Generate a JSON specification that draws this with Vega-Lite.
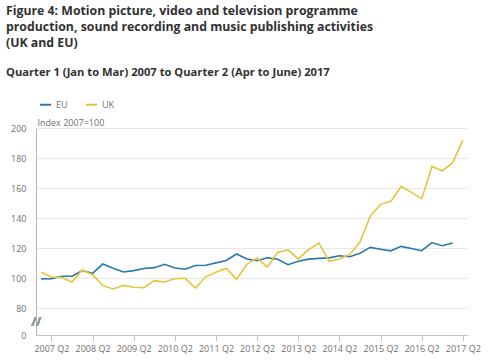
{
  "$schema": "https://vega.github.io/schema/vega-lite/v6.json",
  "width": 432,
  "height": 207,
  "autosize": {"type": "none"},
  "padding": {"left": 36, "top": 128, "right": 32, "bottom": 27},
  "title": {
    "text": ["Figure 4: Motion picture, video and television programme", "production, sound recording and music publishing activities", "(UK and EU)"],
    "subtitle": "Quarter 1 (Jan to Mar) 2007 to Quarter 2 (Apr to June) 2017",
    "anchor": "start",
    "frame": "group",
    "dx": -30,
    "offset": 20,
    "fontSize": 12.3,
    "fontWeight": "bold",
    "lineHeight": 16,
    "color": "#323132",
    "subtitleFontSize": 11.2,
    "subtitleFontWeight": "bold",
    "subtitleColor": "#323132",
    "subtitlePadding": 18
  },
  "data": {
    "values": [
      {"q": "2007 Q1", "series": "EU", "value": 99.4},
      {"q": "2007 Q2", "series": "EU", "value": 99.6},
      {"q": "2007 Q3", "series": "EU", "value": 101.2},
      {"q": "2007 Q4", "series": "EU", "value": 101.2},
      {"q": "2008 Q1", "series": "EU", "value": 105.0},
      {"q": "2008 Q2", "series": "EU", "value": 103.1},
      {"q": "2008 Q3", "series": "EU", "value": 109.3},
      {"q": "2008 Q4", "series": "EU", "value": 106.5},
      {"q": "2009 Q1", "series": "EU", "value": 104.0},
      {"q": "2009 Q2", "series": "EU", "value": 104.9},
      {"q": "2009 Q3", "series": "EU", "value": 106.3},
      {"q": "2009 Q4", "series": "EU", "value": 106.9},
      {"q": "2010 Q1", "series": "EU", "value": 109.1},
      {"q": "2010 Q2", "series": "EU", "value": 106.7},
      {"q": "2010 Q3", "series": "EU", "value": 105.8},
      {"q": "2010 Q4", "series": "EU", "value": 108.3},
      {"q": "2011 Q1", "series": "EU", "value": 108.5},
      {"q": "2011 Q2", "series": "EU", "value": 110.1},
      {"q": "2011 Q3", "series": "EU", "value": 111.7},
      {"q": "2011 Q4", "series": "EU", "value": 116.0},
      {"q": "2012 Q1", "series": "EU", "value": 112.7},
      {"q": "2012 Q2", "series": "EU", "value": 111.5},
      {"q": "2012 Q3", "series": "EU", "value": 113.5},
      {"q": "2012 Q4", "series": "EU", "value": 112.5},
      {"q": "2013 Q1", "series": "EU", "value": 108.9},
      {"q": "2013 Q2", "series": "EU", "value": 111.2},
      {"q": "2013 Q3", "series": "EU", "value": 112.6},
      {"q": "2013 Q4", "series": "EU", "value": 113.1},
      {"q": "2014 Q1", "series": "EU", "value": 113.4},
      {"q": "2014 Q2", "series": "EU", "value": 114.8},
      {"q": "2014 Q3", "series": "EU", "value": 114.2},
      {"q": "2014 Q4", "series": "EU", "value": 116.5},
      {"q": "2015 Q1", "series": "EU", "value": 120.4},
      {"q": "2015 Q2", "series": "EU", "value": 119.2},
      {"q": "2015 Q3", "series": "EU", "value": 118.1},
      {"q": "2015 Q4", "series": "EU", "value": 121.1},
      {"q": "2016 Q1", "series": "EU", "value": 119.7},
      {"q": "2016 Q2", "series": "EU", "value": 118.2},
      {"q": "2016 Q3", "series": "EU", "value": 123.6},
      {"q": "2016 Q4", "series": "EU", "value": 121.5},
      {"q": "2017 Q1", "series": "EU", "value": 123.3},
      {"q": "2007 Q1", "series": "UK", "value": 103.8},
      {"q": "2007 Q2", "series": "UK", "value": 100.7},
      {"q": "2007 Q3", "series": "UK", "value": 100.4},
      {"q": "2007 Q4", "series": "UK", "value": 97.3},
      {"q": "2008 Q1", "series": "UK", "value": 105.3},
      {"q": "2008 Q2", "series": "UK", "value": 102.2},
      {"q": "2008 Q3", "series": "UK", "value": 94.9},
      {"q": "2008 Q4", "series": "UK", "value": 92.7},
      {"q": "2009 Q1", "series": "UK", "value": 95.1},
      {"q": "2009 Q2", "series": "UK", "value": 93.8},
      {"q": "2009 Q3", "series": "UK", "value": 93.6},
      {"q": "2009 Q4", "series": "UK", "value": 98.2},
      {"q": "2010 Q1", "series": "UK", "value": 97.3},
      {"q": "2010 Q2", "series": "UK", "value": 99.5},
      {"q": "2010 Q3", "series": "UK", "value": 99.8},
      {"q": "2010 Q4", "series": "UK", "value": 93.2},
      {"q": "2011 Q1", "series": "UK", "value": 100.8},
      {"q": "2011 Q2", "series": "UK", "value": 103.9},
      {"q": "2011 Q3", "series": "UK", "value": 106.5},
      {"q": "2011 Q4", "series": "UK", "value": 99.1},
      {"q": "2012 Q1", "series": "UK", "value": 109.1},
      {"q": "2012 Q2", "series": "UK", "value": 113.3},
      {"q": "2012 Q3", "series": "UK", "value": 107.3},
      {"q": "2012 Q4", "series": "UK", "value": 117.1},
      {"q": "2013 Q1", "series": "UK", "value": 118.7},
      {"q": "2013 Q2", "series": "UK", "value": 112.7},
      {"q": "2013 Q3", "series": "UK", "value": 118.9},
      {"q": "2013 Q4", "series": "UK", "value": 123.3},
      {"q": "2014 Q1", "series": "UK", "value": 111.1},
      {"q": "2014 Q2", "series": "UK", "value": 112.7},
      {"q": "2014 Q3", "series": "UK", "value": 115.7},
      {"q": "2014 Q4", "series": "UK", "value": 124.0},
      {"q": "2015 Q1", "series": "UK", "value": 141.3},
      {"q": "2015 Q2", "series": "UK", "value": 149.1},
      {"q": "2015 Q3", "series": "UK", "value": 151.1},
      {"q": "2015 Q4", "series": "UK", "value": 161.1},
      {"q": "2016 Q1", "series": "UK", "value": 157.1},
      {"q": "2016 Q2", "series": "UK", "value": 152.9},
      {"q": "2016 Q3", "series": "UK", "value": 174.4},
      {"q": "2016 Q4", "series": "UK", "value": 171.5},
      {"q": "2017 Q1", "series": "UK", "value": 176.7},
      {"q": "2017 Q2", "series": "UK", "value": 191.7}
    ]
  },
  "layer": [
    {
      "mark": {"type": "line", "strokeWidth": 1.6},
      "encoding": {
        "x": {
          "field": "q",
          "type": "ordinal",
          "scale": {"type": "point", "padding": 0.5},
          "axis": {
            "title": null,
            "values": ["2007 Q2", "2008 Q2", "2009 Q2", "2010 Q2", "2011 Q2", "2012 Q2", "2013 Q2", "2014 Q2", "2015 Q2", "2016 Q2", "2017 Q2"],
            "labelAngle": 0,
            "labelFontSize": 9,
            "labelColor": "#707070",
            "labelPadding": 3,
            "labelOverlap": false,
            "tickSize": 6,
            "tickColor": "#c4c4c4",
            "domainColor": "#c4c4c4",
            "grid": false
          }
        },
        "y": {
          "field": "value",
          "type": "quantitative",
          "scale": {"domain": [0, 80, 200], "range": [207, 180, 0], "nice": false, "zero": false},
          "axis": {
            "title": "Index 2007=100",
            "titleAngle": 0,
            "titleAlign": "left",
            "titleBaseline": "alphabetic",
            "titleX": 1,
            "titleY": -3,
            "titleFontSize": 9,
            "titleFontWeight": "normal",
            "titleColor": "#707070",
            "values": [0, 80, 100, 120, 140, 160, 180, 200],
            "tickCount": 20,
            "labelFontSize": 9,
            "labelColor": "#707070",
            "labelPadding": 10,
            "labelOverlap": false,
            "ticks": false,
            "grid": true,
            "gridColor": "#e8e8e8",
            "domainColor": "#b5b5b5"
          }
        },
        "color": {
          "field": "series",
          "type": "nominal",
          "scale": {"domain": ["EU", "UK"], "range": ["#2a7aa8", "#e4c53a"]},
          "legend": {
            "title": null,
            "orient": "none",
            "direction": "horizontal",
            "legendX": 3,
            "legendY": -30,
            "symbolType": "stroke",
            "symbolSize": 121,
            "symbolStrokeWidth": 2,
            "labelFontSize": 9,
            "labelColor": "#707070",
            "labelOffset": 4,
            "columnPadding": 14
          }
        }
      }
    },
    {
      "mark": {"type": "text", "text": "//", "fontSize": 13, "color": "#9a9a9a", "dx": -5},
      "encoding": {
        "x": {"datum": "2007 Q1"},
        "y": {"datum": 40}
      }
    }
  ],
  "config": {
    "font": "Open Sans",
    "view": {"stroke": null},
    "background": "white"
  }
}
